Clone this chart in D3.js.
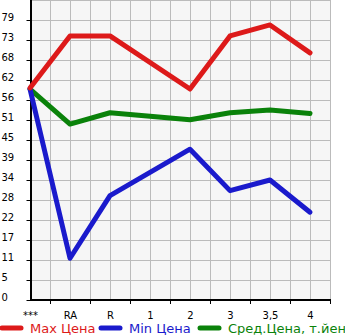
<!DOCTYPE html>
<html>
<head>
<meta charset="utf-8">
<script src="https://cdn.jsdelivr.net/npm/d3@7"></script>
<style>
  body { margin: 0; background: #fff; }
  text { font-family: "DejaVu Sans", sans-serif; }
</style>
</head>
<body>
<script>
// categories and values
var categories = ["***", "RA", "R", "1", "2", "3", "3,5", "4"];
var maxPrice = [59.9, 74.6, 74.6, null, 59.6, 74.6, 77.7, 69.8];
var minPrice = [59.6, 11.8, 29.5, null, 42.6, 30.9, 33.9, 24.8];
var avgPrice = [59.6, 49.7, 52.9, null, 50.9, 52.9, 53.7, 52.7];
var yTickLabels = ["0", "5", "11", "17", "22", "28", "34", "39", "45", "51", "56", "62", "68", "73", "79"];
var yStep = 5.65;

function drawChart(){
    var svg = d3.select("body").append("svg")
        .attr("width", 345)
        .attr("height", 335);

    var left = 31, right = 330, top = 0, bottom = 300;

    var x = d3.scalePoint()
        .domain(categories)
        .range([30, 310]);
    var half = x.step() / 2;

    var y = d3.scaleLinear()
        .domain([0, yStep * 15])
        .range([bottom, top]);

    // plot background
    svg.append("rect")
        .attr("x", left).attr("y", top)
        .attr("width", right - left).attr("height", bottom - top)
        .attr("fill", "#f6f6f6");

    // grid
    var vx = [];
    categories.forEach(function(c, i){
        if (i > 0) vx.push(x(c));
        vx.push(x(c) + half);
    });
    svg.selectAll(".vgrid").data(vx).enter().append("line")
        .attr("x1", function(d){ return d; }).attr("x2", function(d){ return d; })
        .attr("y1", top).attr("y2", bottom)
        .attr("stroke", "#bbbbbb").attr("stroke-width", 1)
        .attr("shape-rendering", "crispEdges");

    var tickVals = yTickLabels.map(function(t, i){ return i * yStep; });
    svg.selectAll(".hgrid").data(tickVals.concat([yStep * 15])).enter().append("line")
        .attr("x1", left).attr("x2", right)
        .attr("y1", function(d){ return Math.round(y(d)) + 0.5; })
        .attr("y2", function(d){ return Math.round(y(d)) + 0.5; })
        .attr("stroke", "#bbbbbb").attr("stroke-width", 1);

    // y axis
    var yAxis = d3.axisLeft(y)
        .tickValues(tickVals)
        .tickSize(4)
        .tickPadding(16)
        .tickFormat(function(d, i){ return yTickLabels[i]; });
    var gy = svg.append("g")
        .attr("transform", "translate(" + (left - 0.5) + ",0)")
        .call(yAxis);
    gy.select(".domain").remove();
    gy.selectAll(".tick line").attr("stroke", "#000");
    gy.selectAll(".tick text")
        .attr("text-anchor", "start")
        .attr("x", -29)
        .attr("dy", "0")
        .attr("y", 0)
        .style("font-size", "10px")
        .attr("fill", "#000");

    // x axis
    var xAxis = d3.axisBottom(x)
        .tickSize(0)
        .tickPadding(12);
    var gx = svg.append("g")
        .attr("transform", "translate(0," + bottom + ")")
        .call(xAxis);
    gx.select(".domain").remove();
    gx.selectAll(".tick text")
        .style("font-size", "10px")
        .attr("fill", "#000");
    gx.selectAll(".xtick").data(categories).enter().append("line")
        .attr("x1", function(d){ return x(d) + half + 0.5; })
        .attr("x2", function(d){ return x(d) + half + 0.5; })
        .attr("y1", 0).attr("y2", 4)
        .attr("stroke", "#000");

    // axis lines
    svg.append("line")
        .attr("x1", left).attr("x2", left)
        .attr("y1", top).attr("y2", bottom + 1)
        .attr("stroke", "#000").attr("stroke-width", 2);
    svg.append("line")
        .attr("x1", left - 1).attr("x2", right + 1)
        .attr("y1", bottom).attr("y2", bottom)
        .attr("stroke", "#000").attr("stroke-width", 2);

    // series
    var series = [
        { name: "Max Цена", values: maxPrice, color: "#dd1a1a" },
        { name: "Min Цена", values: minPrice, color: "#1a1acc" },
        { name: "Сред.Цена, т.йен", values: avgPrice, color: "#0a820a" }
    ];

    var line = d3.line()
        .x(function(d){ return x(d.c); })
        .y(function(d){ return y(d.v); });

    series.slice().reverse().forEach(function(s){
        var pts = categories.map(function(c, i){ return { c: c, v: s.values[i] }; })
            .filter(function(d){ return d.v != null; });
        svg.append("path")
            .datum(pts)
            .attr("d", line)
            .attr("fill", "none")
            .attr("stroke", s.color)
            .attr("stroke-width", 5)
            .attr("stroke-linejoin", "round")
            .attr("stroke-linecap", "round");
    });

    // legend
    var legendX = [2, 101, 200];
    var lg = svg.selectAll(".legend").data(series).enter().append("g")
        .attr("transform", function(d, i){ return "translate(" + legendX[i] + ",328)"; });
    lg.append("line")
        .attr("x1", 0).attr("x2", 19)
        .attr("y1", 0).attr("y2", 0)
        .attr("stroke", function(d){ return d.color; })
        .attr("stroke-width", 5)
        .attr("stroke-linecap", "round");
    lg.append("text")
        .attr("x", 28).attr("y", 5)
        .style("font-size", "13px")
        .attr("fill", function(d){ return d.color; })
        .text(function(d){ return d.name; });
}

window.onload = drawChart();
</script>
</body>
</html>
